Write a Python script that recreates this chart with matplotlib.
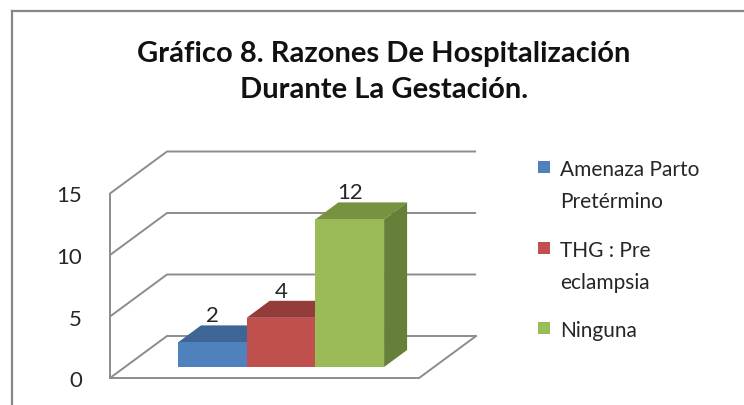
import matplotlib.pyplot as plt
from matplotlib.patches import Polygon, Rectangle
from matplotlib.lines import Line2D

# data
categories = ['Amenaza Parto\nPretérmino', 'THG : Pre\neclampsia', 'Ninguna']
values = [2, 4, 12]
y_ticks = [0, 5, 10, 15]
title = 'Gráfico 8. Razones De Hospitalización\nDurante La Gestación.'

front_colors = ['#4F81BD', '#C0504D', '#9BBB59']
top_colors = ['#3D6696', '#943C3A', '#77933F']
side_colors = ['#375C88', '#85312F', '#66803A']
grid_color = '#8C8C8C'
font = 'Lato'

W, H = 744, 405
fig = plt.figure(figsize=(W / 100, H / 100), dpi=100)
ax = fig.add_axes([0, 0, 1, 1])

# pixel scale of the pseudo 3d plot (bar plane)
px_x = 68.7   # px per bar
px_y = 12.3   # px per unit of value
ax.set_xlim(-0.5 - 178 / px_x, -0.5 + (W - 178) / px_x)
ax.set_ylim(-(H - 367) / px_y, 367 / px_y)
ax.axis('off')

def off(dx_px, dy_px):
    return dx_px / px_x, dy_px / px_y

fx, fy = off(-15, -11)    # front edge of floor relative to bars
bx, by = off(42, 31)      # back wall relative to bars
dx, dy = off(23, 17)      # bar depth
xl = -0.5 - 53 / px_x
xr = len(values) - 0.5 + 50 / px_x

# walls and gridlines
for t in y_ticks:
    ax.plot([xl + fx, xl + bx, xr + bx], [t + fy, t + by, t + by],
            color=grid_color, lw=1.4, zorder=1, solid_capstyle='butt')
    ax.text(xl + fx - 28 / px_x, t + fy - 3 / px_y, str(t), ha='right', va='center',
            fontsize=16, family=font, color='#262626')
ax.plot([xl + fx, xl + fx], [fy, max(y_ticks) + fy], color=grid_color, lw=1.4, zorder=1)
ax.plot([xl + fx, xr + fx, xr + bx], [fy, fy, by], color=grid_color, lw=1.4, zorder=1)

# bars
xs = list(range(len(values)))
for i, (x, v) in enumerate(zip(xs, values)):
    z = 2 + i
    ax.bar(x, v, width=1, color=front_colors[i], zorder=z + 0.2, linewidth=0)
    top = [(x - 0.5, v), (x + 0.5, v), (x + 0.5 + dx, v + dy), (x - 0.5 + dx, v + dy)]
    side = [(x + 0.5, 0), (x + 0.5, v), (x + 0.5 + dx, v + dy), (x + 0.5 + dx, dy)]
    ax.add_patch(Polygon(top, closed=True, facecolor=top_colors[i], lw=0, zorder=z))
    ax.add_patch(Polygon(side, closed=True, facecolor=side_colors[i], lw=0, zorder=z))
    ax.text(x, v + dy + 9 / px_y, str(v), ha='center', va='center',
            fontsize=16, family=font, color='#262626', zorder=10)

# title
fig.text(384 / W, 1 - 72 / H, title, ha='center', va='center', fontsize=21,
         fontweight='bold', family=font, linespacing=1.45, color='#111111')

# legend (square aligned with first line of each entry)
legend_y = [167, 248, 328]
for i, lab in enumerate(categories):
    y = legend_y[i]
    fig.patches.append(Rectangle((538 / W, 1 - (y + 6) / H), 12 / W, 12 / H,
                                 transform=fig.transFigure, facecolor=front_colors[i],
                                 edgecolor='none'))
    fig.text(560 / W, 1 - (y - 7) / H, lab, ha='left', va='top', fontsize=15,
             family=font, linespacing=1.75, color='#262626')

# chart border (only top and left visible in the crop)
fig.add_artist(Line2D([12 / W, 12 / W], [1 - 11 / H, 0], transform=fig.transFigure,
                      color='#868686', lw=1.6))
fig.add_artist(Line2D([12 / W, 1], [1 - 11 / H, 1 - 11 / H], transform=fig.transFigure,
                      color='#868686', lw=1.6))

fig.savefig('out.png', dpi=100)
